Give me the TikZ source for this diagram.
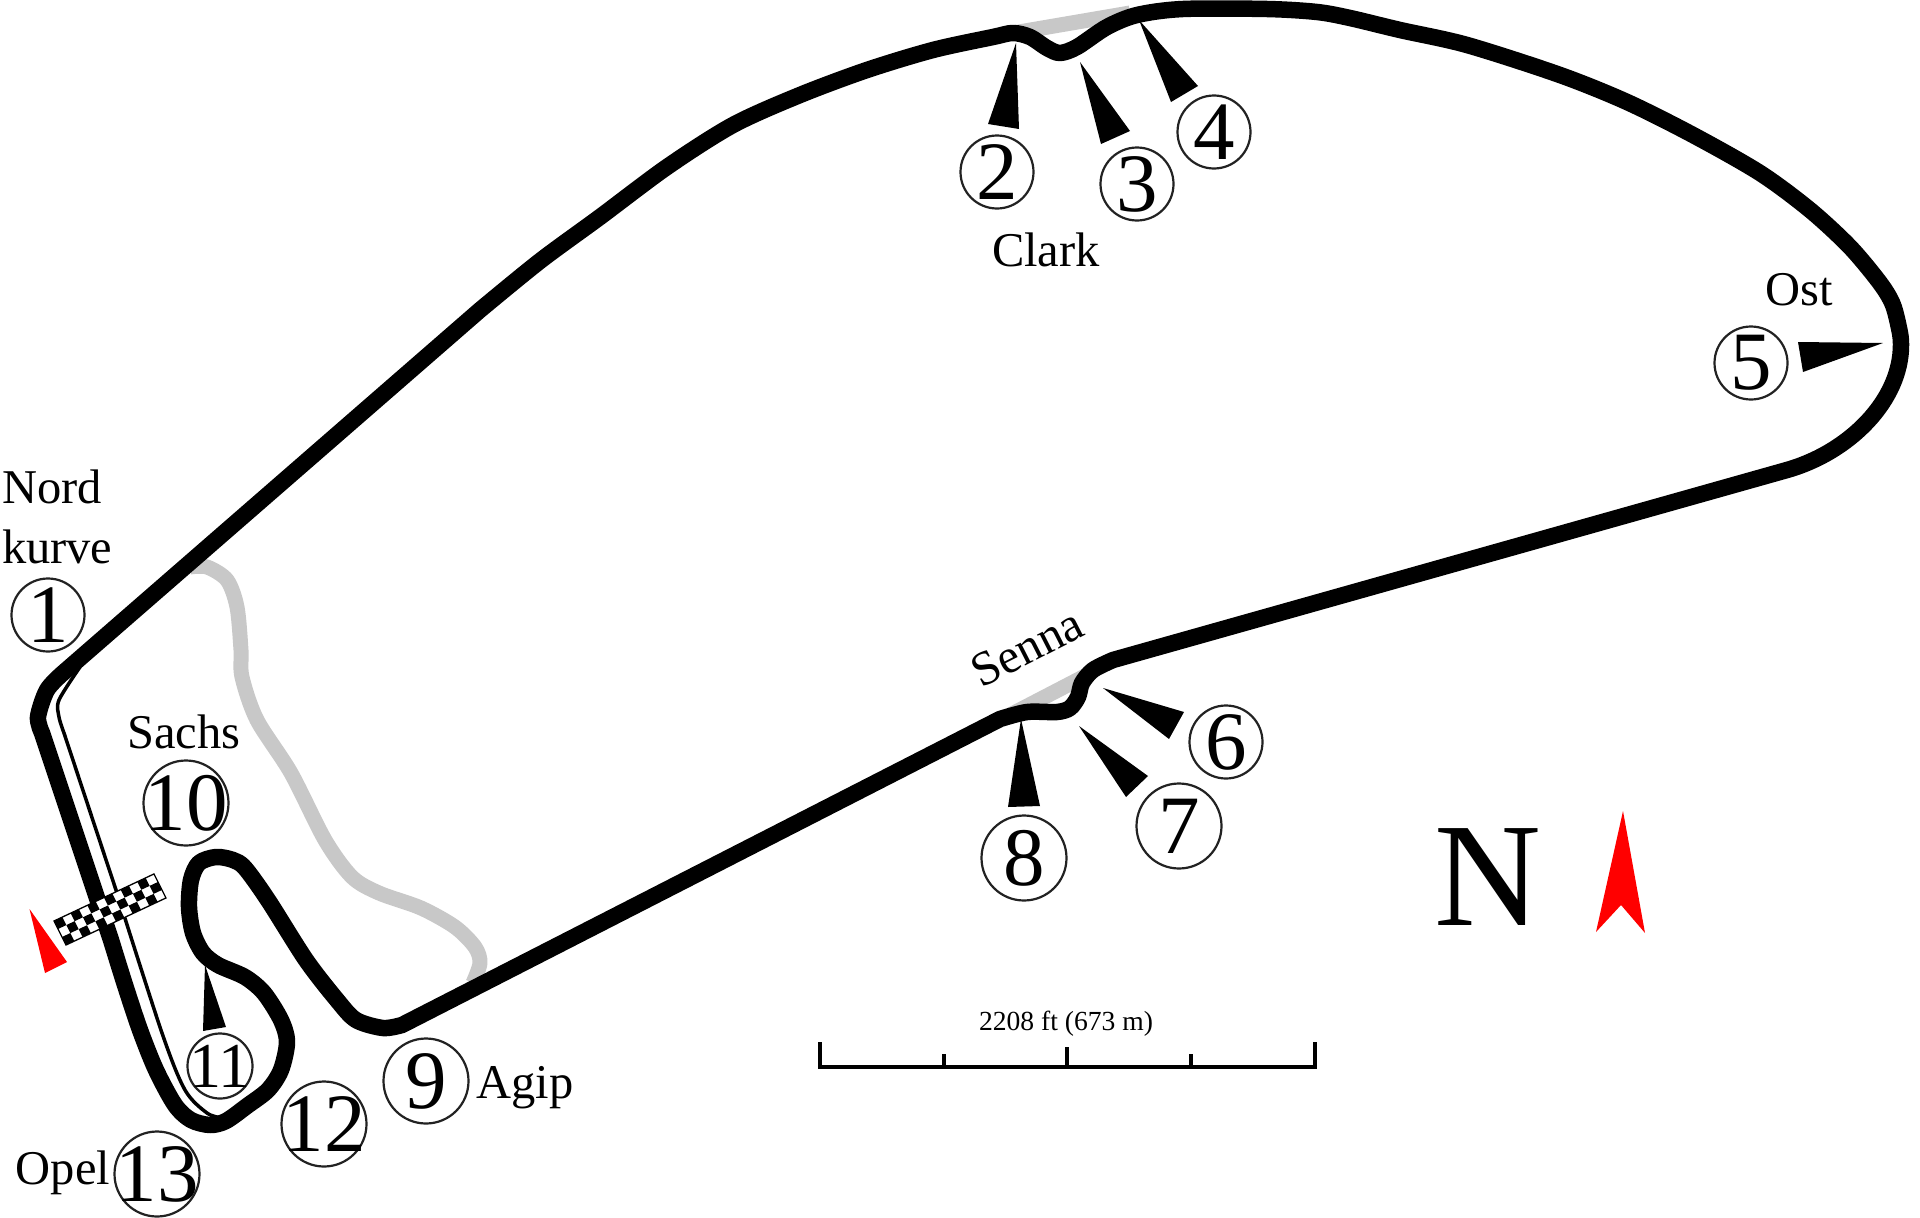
\documentclass[tikz,border=0pt]{standalone}
\usepackage{fontspec}
\setmainfont{Liberation Serif}
\definecolor{runoff}{HTML}{C8C8C8}
\definecolor{ringc}{HTML}{222222}
\newcommand{\dg}[1]{\makebox[0pt]{#1}}
\tikzset{
  x=1pt,y=-1pt,
  trackline/.style={line width=16.5pt,black,line join=round},
  pitline/.style={line width=3.5pt,black,line join=round},
  greyline/.style={line width=15pt,runoff,line join=round},
  wedge/.style={fill=black,draw=none},
  redwedge/.style={fill=red,draw=none},
  turnsmall/.style={circle,draw=ringc,line width=2.2pt,inner sep=0pt,outer sep=0pt,minimum size=73pt,font=\fontsize{83}{83}\selectfont},
  turnbig/.style={turnsmall,minimum size=85pt},
  turneleven/.style={turnsmall,minimum size=65pt,font=\fontsize{64}{64}\selectfont},
  lab/.style={inner sep=0pt,outer sep=0pt,anchor=base,font=\fontsize{48.5}{48.5}\selectfont},
  barline/.style={line width=3.5pt,black,line cap=butt}
}
\begin{document}
\begin{tikzpicture}
\fill[white] (0,0) rectangle (1920,1218);
\useasboundingbox (0,0) rectangle (1920,1218);
% run-off areas
\draw[greyline] plot[smooth] coordinates {(190,567) (207,567) (227,580) (237,607) (241,650) (242,677) (257,720) (291,773) (325,840) (352,877) (379,893) (421,908) (455,927) (475,947) (480,963) (473,983)};
\draw[greyline] (1013,33) -- (1130,13);
\draw[greyline] (1010,715) -- (1087,675);
% pit lane
\draw[pitline] plot[smooth] coordinates {(80,667) (59,700) (59,717) (64,733)} -- (116,890) -- plot[smooth] coordinates {(116,890) (162,1033) (185,1090) (207,1113) (222,1118)};
% track
\draw[trackline] plot[smooth] coordinates {(63,673) (47,690) (38,717) (42,733)}
 -- plot[smooth] coordinates {(111,940) (125,985) (140,1030) (156,1070) (175,1105) (191,1120) (210,1125) (226,1121) (247,1106) (268,1090) (281,1070) (287,1042) (281,1020) (264,993) (245,977) (218,965) (203,953) (193,933) (189,907) (191,880) (199,863) (216,857) (233,860) (245,868) (268,900) (306,960) (337,1000) (356,1020) (383,1028) (402,1025)}
 -- plot[smooth] coordinates {(1000,719) (1027,712) (1057,712) (1070,708) (1078,697) (1082,683) (1093,670) (1113,660)}
 -- (1787,470) .. controls (1850,452) and (1901,400) .. (1901,345)
 -- plot[smooth] coordinates {(1901,345) (1900,333) (1893,305) (1880,283) (1850,247) (1810,210) (1760,173) (1693,135) (1627,102) (1560,75) (1467,45) (1400,30) (1350,18) (1317,12) (1267,9) (1183,9) (1137,15) (1107,27) (1077,47) (1060,53) (1047,48) (1030,37) (1013,33) (993,37) (933,50) (867,70) (800,95) (733,125) (667,167) (600,217) (540,261) (480,310)}
 -- cycle;
% start/finish flag
\begin{scope}[shift={(54,921)},x={(8.33pt,3.92pt)},y={(4pt,-8pt)}]
\fill[white] (0,0) -- (12,0) -- (12,3) -- (0,3) -- cycle;
\foreach \i in {0,...,11}{\foreach \j in {0,1,2}{
  \pgfmathtruncatemacro{\chk}{mod(\i+\j,2)}
  \ifnum\chk=0 \fill[black] (\i,\j) -- ++(1,0) -- ++(0,1) -- ++(-1,0) -- cycle;\fi
}}
\draw[black,line width=1.3pt] (0,0) -- (12,0) -- (12,3) -- (0,3) -- cycle;
\end{scope}
% pointers
\fill[wedge] (1016,43) -- (988,124) -- (1019,129) -- cycle;
\fill[wedge] (1080,62) -- (1101,144) -- (1130,131) -- cycle;
\fill[wedge] (1139,20) -- (1171,102) -- (1198,86) -- cycle;
\fill[wedge] (1883,343) -- (1798,342) -- (1803,372) -- cycle;
\fill[wedge] (1103,688) -- (1184,712) -- (1169,739) -- cycle;
\fill[wedge] (1079,726) -- (1148,776) -- (1126,797) -- cycle;
\fill[wedge] (1021,719) -- (1008,807) -- (1040,806) -- cycle;
\fill[wedge] (205,965) -- (203,1031) -- (226,1027) -- cycle;
\fill[redwedge] (29.5,909) -- (45,973) -- (67,962) -- cycle;
\fill[redwedge] (1623,811) -- (1596,932) -- (1621,905) -- (1645,933) -- cycle;
% turn numbers
\node[turnsmall] (t1) at (48,615) {\dg{1}};
\node[turnsmall] (t2) at (997,172) {\dg{2}};
\node[turnsmall] (t3) at (1137,184) {\dg{3}};
\node[turnsmall] (t4) at (1214,132) {\dg{4}};
\node[turnsmall] (t5) at (1751,363) {\dg{5}};
\node[turnsmall] (t6) at (1226,742) {\dg{6}};
\node[turnbig] (t7) at (1179,826) {\dg{7}};
\node[turnbig] (t8) at (1024,858) {\dg{8}};
\node[turnbig] (t9) at (426,1081) {\dg{9}};
\node[turnbig] (t10) at (186,803) {\dg{10}};
\node[turneleven] (t11) at (220,1066) {\dg{11}};
\node[turnbig] (t12) at (324,1124) {\dg{12}};
\node[turnbig] (t13) at (157,1174) {\dg{13}};
% labels
\node[lab,anchor=base west] (nord) at (2,503) {Nord};
\node[lab,anchor=base west] (kurve) at (2,563) {kurve};
\node[lab] (clark) at (1046,266) {Clark};
\node[lab] (ost) at (1799,305) {Ost};
\node[lab,rotate=27] (senna) at (1034,662) {Senna};
\node[lab] (sachs) at (184,748) {Sachs};
\node[lab] (agip) at (525,1098) {Agip};
\node[lab] (opel) at (63,1184) {Opel};
\node[inner sep=0pt,outer sep=0pt,anchor=base,font=\fontsize{148}{148}\selectfont] (north) at (1488,925) {N};
% scale bar
\node[inner sep=0pt,outer sep=0pt,anchor=base,font=\fontsize{27.6}{28}\selectfont] (scale) at (1066,1030) {2208 ft (673 m)};
\coordinate (b0) at (820,1067); \coordinate (b4) at (1315,1067);
\draw[barline,line join=miter] (820,1042) -- (b0) -- (b4) -- (1315,1042);
\draw[barline] (944,1067) -- (944,1054);
\draw[barline] (1067,1067) -- (1067,1047);
\draw[barline] (1191,1067) -- (1191,1054);
\end{tikzpicture}
\end{document}
